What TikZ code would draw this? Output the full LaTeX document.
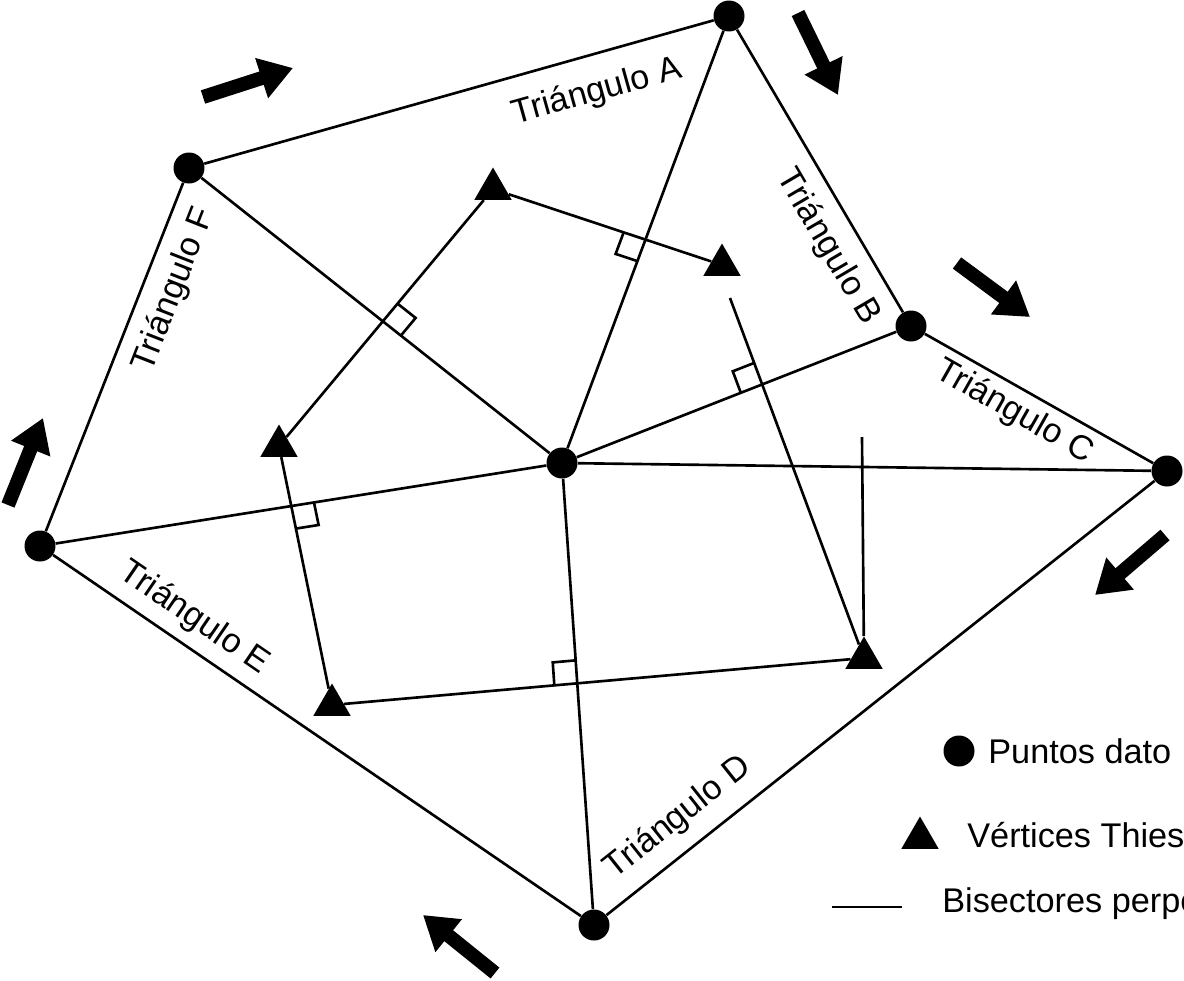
\documentclass[tikz,border=0pt]{standalone}
\usepackage{fontspec}
\setmainfont{Liberation Sans}
\usetikzlibrary{arrows.meta,calc,shapes.geometric}

\tikzset{
  dato/.style={circle, fill=black, inner sep=0pt, minimum size=0.62cm},
  vert/.style={regular polygon, regular polygon sides=3, fill=black, inner sep=0pt, minimum size=0.86cm},
  lado/.style={line width=1.5pt},
  flecha/.style={line width=0.28cm, -{Triangle[length=0.66cm,width=0.8cm]}},
  etiq/.style={font=\fontsize{19.5}{23}\selectfont, inner sep=0pt},
}

\begin{document}
\begin{tikzpicture}[x=0.02cm, y=-0.02cm]
        \useasboundingbox (0,0) rectangle (1184,981);
        \clip (0,0) rectangle (1184,981);
        % puntos dato
        \node [dato] (n0) at (562,463) {};
        \node [dato] (n1) at (729,16) {};
        \node [dato] (n2) at (911,326) {};
        \node [dato] (n3) at (1167,471) {};
        \node [dato] (n4) at (594,925) {};
        \node [dato] (n5) at (40,546) {};
        \node [dato] (n6) at (189,168) {};
        % vertices Thiessen
        \node [vert] (vA) at (493,189) {};
        \node [vert] (vB) at (722,265) {};
        \node [vert] (vD) at (864,658) {};
        \node [vert] (vE) at (332,705) {};
        \node [vert] (vF) at (279,446) {};
        \coordinate (bB) at (730,298);
        \coordinate (bC) at (862,437);
        % triangulos
        \draw [lado] (n1) -- (n2) -- (n3) -- (n4) -- (n5) -- (n6) -- (n1);
        \foreach \n in {n1,n2,n3,n4,n5,n6}
            \draw [lado] (n0) -- (\n);
        % bisectores
        \draw [lado] (vA) -- (vB);
        \draw [lado] (vA) -- (vF);
        \draw [lado] (vF) -- (vE);
        \draw [lado] (vE) -- (vD);
        \draw [lado] (vD) -- (bB);
        \draw [lado] (vD) -- (bC);
        % angulos rectos
        \coordinate (xA) at (intersection of vA.center--vB.center and n0.center--n1.center);
        \coordinate (xF) at (intersection of vA.center--vF.center and n0.center--n6.center);
        \coordinate (xE) at (intersection of vF.center--vE.center and n0.center--n5.center);
        \coordinate (xD) at (intersection of vE.center--vD.center and n0.center--n4.center);
        \coordinate (xB) at (intersection of vD.center--bB.center and n0.center--n2.center);
        \foreach \p/\a/\b in {xA/vA/n0, xF/vA/n0, xE/n0/vE, xD/vE/n0, xB/n0/bB}
            \draw [lado] ($(\p)!0.46cm!(\a.center)$) -- ($(\p)!0.46cm!(\a.center) + (\p)!0.46cm!(\b.center) - (\p)$) -- ($(\p)!0.46cm!(\b.center)$);
        % flechas
        \draw [flecha] (203,97) -- (293,68);
        \draw [flecha] (798,13) -- (838,95);
        \draw [flecha] (957,263) -- (1030,317);
        \draw [flecha] (1165,535) -- (1095,595);
        \draw [flecha] (495,973) -- (423,915);
        \draw [flecha] (8,505) -- (43,418);
        % etiquetas
        \node [etiq, rotate=15.6] (lA) at (597,92) {Triángulo A};
        \node [etiq, rotate=-59.6] (lB) at (828,247) {Triángulo B};
        \node [etiq, rotate=-29.6] (lC) at (1014,412) {Triángulo C};
        \node [etiq, rotate=38.5] (lD) at (678,818) {Triángulo D};
        \node [etiq, rotate=-34.4] (lE) at (194,618) {Triángulo E};
        \node [etiq, rotate=68.6] (lF) at (174,290) {Triángulo F};
        % leyenda
        \node [dato] (gdat) at (959,751) {};
        \node [etiq, anchor=base west] (tdat) at (988,763) {Puntos dato};
        \node [vert] (gver) at (920,838) {};
        \node [etiq, anchor=base west] (tver) at (967,847) {Vértices Thiessen};
        \coordinate (gb1) at (832,907);
        \coordinate (gb2) at (902,907);
        \draw [lado] (gb1) -- (gb2);
        \node [etiq, anchor=base west] (tbis) at (942,912) {Bisectores perpendiculares};
    \end{tikzpicture}
\end{document}
